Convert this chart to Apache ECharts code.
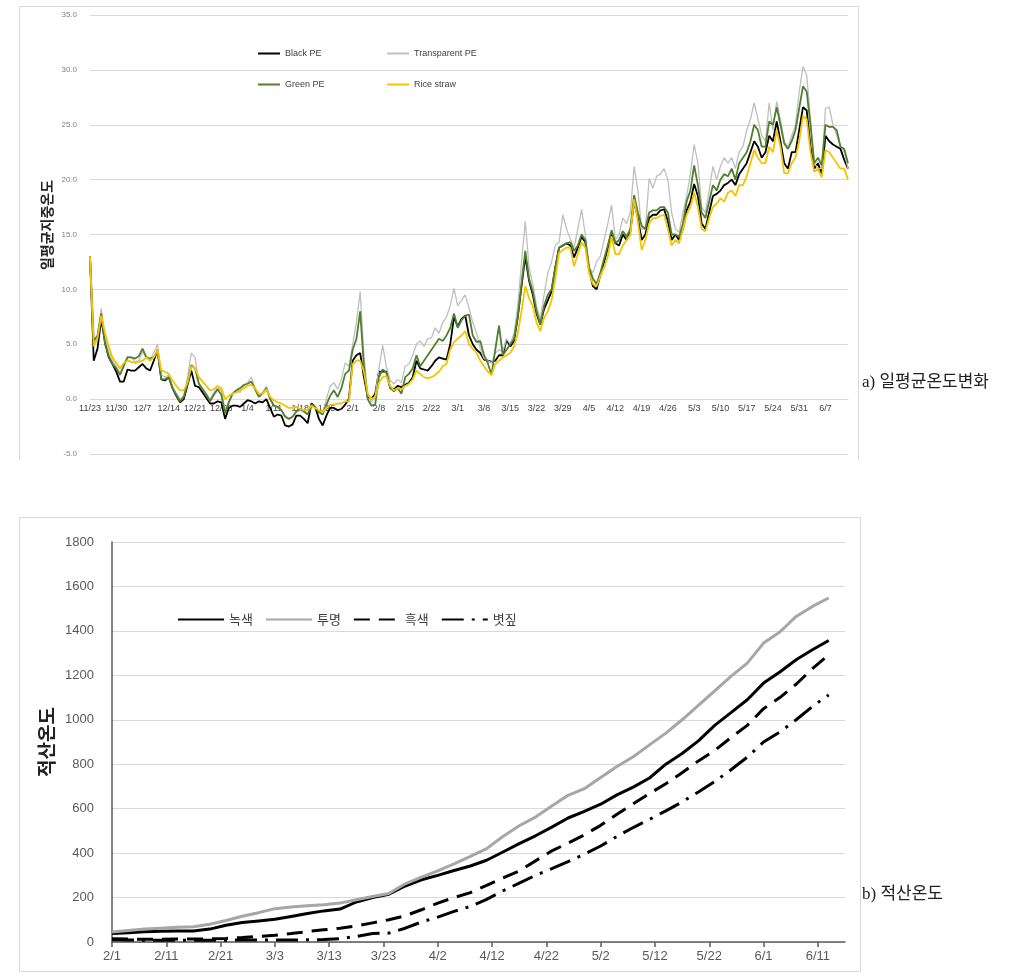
<!DOCTYPE html>
<html><head><meta charset="utf-8">
<script src="https://cdn.jsdelivr.net/npm/echarts@6/dist/echarts.min.js"></script>
<style>html,body{margin:0;padding:0;background:#fff;}#c{width:1035px;height:978px;}</style>
</head><body><div id="c"></div>
<script>
// ---------- top chart: daily mean soil temperature (11/23 .. 6/13) ----------
const blackPE = [13.0,3.5,4.6,7.3,5.2,3.8,3.2,2.5,1.6,1.6,2.7,2.6,2.6,2.9,3.2,2.8,2.6,3.5,4.5,1.8,
1.7,2.0,1.0,0.3,-0.3,0.0,1.3,2.6,1.2,1.1,0.6,0.1,-0.4,-0.4,-0.2,-0.3,-1.8,-0.8,-0.6,-0.6,
-0.7,-0.4,-0.1,-0.2,-0.4,-0.2,-0.3,0.0,-0.8,-1.6,-1.4,-1.5,-2.4,-2.5,-2.3,-1.5,-1.5,-1.8,-2.2,-0.4,
-0.7,-1.8,-2.4,-1.5,-0.8,-0.8,-1.0,-0.9,-0.5,0.0,3.5,4.0,4.2,2.0,0.2,0.0,0.5,2.5,2.5,2.5,
1.0,0.9,1.2,1.1,1.3,1.5,2.0,3.5,2.8,2.7,2.6,3.0,3.5,3.8,3.7,3.6,5.0,7.5,6.6,7.3,
7.6,5.8,5.0,4.5,4.2,3.6,3.5,3.4,3.5,4.0,4.0,5.4,4.8,5.3,7.5,10.3,13.0,10.8,9.5,7.8,
6.8,8.2,9.0,9.8,12.0,13.8,14.0,14.2,14.0,12.9,13.8,14.8,14.3,11.8,10.3,10.0,11.3,12.5,13.8,15.2,
14.2,14.0,15.0,14.5,15.3,18.0,16.5,14.5,15.0,16.5,16.8,16.8,17.2,17.3,16.2,14.5,15.0,14.5,15.5,17.2,
18.0,19.6,18.5,16.0,15.5,17.0,18.5,18.7,19.0,19.5,19.7,20.0,19.5,20.5,21.0,21.5,22.5,23.5,23.0,22.0,
22.5,24.0,23.5,25.3,23.5,21.5,21.0,22.5,22.5,24.5,26.6,26.3,23.0,21.0,21.5,20.5,24.0,23.5,23.2,23.0,
22.8,21.8,21.0];
const transparentPE = [13.0,5.2,5.8,8.3,5.6,4.3,3.5,3.0,2.4,3.2,3.9,3.8,3.4,3.5,4.3,3.9,3.6,4.2,5.0,2.2,
2.0,2.2,1.2,0.5,0.0,0.3,2.0,4.2,3.8,1.5,1.0,0.5,0.0,0.6,1.0,0.8,-1.0,-0.2,0.5,0.8,
0.6,1.2,1.5,2.0,1.0,0.4,0.6,1.2,0.2,-0.5,-0.8,-1.0,-1.5,-1.8,-1.6,-1.2,-1.0,-1.2,-1.4,-0.6,
-0.7,-1.1,-1.4,0.0,1.2,1.5,0.9,1.8,3.3,3.0,5.0,7.0,9.8,4.0,0.5,-0.3,0.3,2.8,4.9,2.9,
1.7,1.4,1.8,1.5,3.0,3.2,4.0,5.0,5.3,4.8,5.5,5.6,6.5,6.0,7.0,7.5,8.5,10.1,8.5,9.0,
9.5,8.3,7.0,6.0,4.6,3.7,3.5,3.3,4.2,4.5,4.3,5.5,5.0,6.0,8.5,12.5,16.2,12.0,10.5,8.5,
7.3,9.5,11.5,12.5,14.0,14.3,16.8,15.5,14.6,13.8,15.5,17.3,15.0,12.0,11.5,12.5,13.0,14.5,16.0,17.7,
14.5,15.0,16.5,16.0,17.0,21.2,19.0,15.5,15.5,20.1,19.2,20.3,20.5,21.0,20.0,17.0,15.5,15.2,17.0,18.5,
20.5,23.2,21.5,17.5,17.0,19.0,21.2,20.0,21.2,22.0,21.5,22.0,21.0,22.5,23.0,24.5,25.5,27.0,25.5,24.0,
23.5,27.0,24.5,27.1,25.5,23.5,23.0,24.0,25.0,28.0,30.3,29.5,25.5,21.5,21.0,21.0,26.5,26.6,25.0,24.0,
23.0,22.5,21.0];
const greenPE = [13.0,5.3,5.8,7.8,5.0,3.9,3.2,2.8,2.2,3.0,3.8,3.8,3.7,3.9,4.6,3.8,3.7,3.8,4.4,1.8,
1.8,2.0,1.0,0.4,-0.2,0.2,1.5,3.1,2.8,1.4,0.9,0.4,-0.2,0.4,0.9,0.4,-1.3,-0.3,0.5,0.8,
1.0,1.3,1.4,1.6,0.9,0.2,0.5,1.0,0.0,-0.6,-0.7,-1.0,-1.6,-1.8,-1.6,-1.1,-0.9,-1.1,-1.4,-0.5,
-0.7,-1.2,-1.4,-0.5,0.3,0.8,0.2,1.0,2.3,2.6,4.5,5.5,8.0,3.0,0.0,-0.6,-0.5,2.0,2.7,2.4,
1.0,0.7,1.0,0.5,2.0,2.3,2.8,4.0,3.0,3.5,4.0,4.5,5.0,5.5,5.3,5.8,6.5,7.8,6.5,7.2,
7.6,7.7,5.8,5.2,5.3,4.0,3.3,2.2,4.5,6.7,4.0,4.5,5.0,5.5,7.5,10.5,13.5,11.0,9.8,8.0,
6.8,8.5,9.5,10.0,12.0,13.8,14.0,14.2,14.3,13.5,14.0,15.0,14.5,12.0,11.0,10.5,11.5,12.8,14.0,15.4,
14.2,14.5,15.3,14.8,15.5,18.6,17.0,15.8,15.5,17.0,17.2,17.2,17.5,17.5,17.0,15.0,15.0,14.8,16.0,18.0,
19.0,21.3,19.5,17.0,16.5,18.0,19.5,19.0,20.0,20.5,20.3,21.0,20.0,21.5,22.0,22.5,23.5,25.0,24.5,23.0,
23.0,25.3,25.0,26.6,25.0,23.3,22.8,23.5,24.5,26.5,28.5,28.0,25.0,21.5,22.0,21.3,25.0,24.8,24.8,24.5,
23.0,22.8,21.5];
const riceStraw = [13.0,4.8,5.5,7.6,6.0,4.8,3.8,3.3,2.8,3.3,3.5,3.4,3.3,3.4,3.5,3.8,3.5,3.8,4.5,2.6,
2.5,2.3,1.7,1.2,0.8,0.8,1.5,3.0,2.8,2.0,1.6,1.2,0.8,0.9,1.2,1.0,0.0,0.3,0.5,0.6,
0.8,1.0,1.2,1.3,1.0,0.5,0.5,0.9,0.2,-0.1,-0.3,-0.4,-0.6,-0.8,-0.8,-0.7,-0.9,-1.0,-1.0,-0.6,
-0.8,-1.0,-1.2,-0.8,-0.5,-0.5,-0.4,-0.4,-0.2,-0.2,3.2,3.5,3.5,2.5,0.5,0.0,0.2,1.5,2.0,2.1,
1.2,0.8,1.0,0.9,1.2,1.4,1.8,2.6,2.3,2.0,1.9,2.0,2.2,2.5,3.0,3.2,4.5,5.2,5.5,5.8,
6.2,5.0,4.6,4.2,3.5,3.0,2.5,2.2,3.2,3.5,3.8,4.0,4.2,4.8,6.0,8.0,10.3,9.2,8.5,7.0,
6.2,7.4,8.0,9.0,11.0,13.3,13.6,13.8,13.8,12.1,13.2,14.3,13.8,11.5,10.5,10.3,11.2,12.0,13.0,14.8,
13.2,13.2,14.0,14.5,15.0,18.2,16.2,13.6,14.5,16.0,16.5,16.5,16.7,16.8,15.5,14.0,14.5,14.2,15.5,16.8,
17.5,18.8,17.5,15.5,15.3,16.5,17.5,17.8,18.3,18.0,18.8,19.0,18.5,19.5,19.5,20.3,21.5,22.7,22.0,21.5,
21.5,23.0,22.5,24.5,23.0,20.6,20.6,21.5,22.0,23.5,25.8,25.5,22.5,20.7,21.0,20.2,22.7,22.5,22.0,21.5,
21.0,21.0,20.0];
const topNames = ['Black PE','Transparent PE','Green PE','Rice straw'];
const topColors = ['#000000','#bfbfbf','#4f7f2f','#f5c400'];

// ---------- bottom chart: accumulated temperature (2/1 .. 6/13), sampled every 3 days ----------
const bottomDays = [0,3,6,9,12,15,18,21,24,27,30,33,36,39,42,45,48,51,54,57,60,63,66,69,72,75,78,81,84,87,90,93,96,99,102,105,108,111,114,117,120,123,126,129,132];
const accGreen = [38,42,46,48,49,49,58,75,88,95,102,115,128,140,148,180,200,215,252,280,300,322,342,368,405,443,478,517,558,588,620,662,697,738,800,848,905,975,1032,1090,1165,1215,1270,1315,1357];
const accTrans = [45,52,58,62,66,69,80,97,116,132,150,158,163,168,175,190,205,218,262,292,320,352,385,420,475,523,562,612,660,690,740,790,834,887,940,1000,1065,1130,1195,1255,1345,1395,1465,1510,1548];
const accBlack = [15,14,12,12,13,13,14,16,20,25,30,38,47,55,62,72,86,100,118,145,175,200,222,255,288,320,365,410,445,482,525,575,622,668,712,762,815,862,920,975,1050,1100,1160,1230,1292];
const accStraw = [10,9,8,8,8,8,8,8,9,9,9,9,10,11,15,25,38,40,62,90,112,138,160,192,230,265,300,330,362,395,432,475,515,552,590,630,675,722,775,832,900,945,1000,1060,1112];
const bottomNames = ['녹색','투명','흑색','볏짚'];

// ---------- date labels ----------
const monthLen = {11:30,12:31,1:31,2:28,3:31,4:30,5:31,6:30};
function dateLabels(m, d, n) {
  const out = [];
  for (let i = 0; i < n; i++) {
    out.push(m + '/' + d);
    d++;
    if (d > monthLen[m]) { d = 1; m = m === 12 ? 1 : m + 1; }
  }
  return out;
}
const topDates = dateLabels(11, 23, blackPE.length);
const bottomDates = dateLabels(2, 1, 140);

const KR = "'Noto Sans CJK KR','Liberation Sans',sans-serif";
const LAT = "'Liberation Sans','Noto Sans CJK KR',sans-serif";

const topSeriesData = [blackPE, transparentPE, greenPE, riceStraw];
const topWidths = [1.8, 1.3, 1.8, 1.8];
const topSeries = topNames.map((name, i) => ({
  name, type: 'line', xAxisIndex: 0, yAxisIndex: 0,
  data: topSeriesData[i], symbol: 'none', showSymbol: false,
  lineStyle: { color: topColors[i], width: topWidths[i] },
  itemStyle: { color: topColors[i] }, animation: false, z: 3 + i
}));

const accData = [accGreen, accTrans, accBlack, accStraw];
const accStyles = [
  { color: '#000000', width: 3, type: 'solid' },
  { color: '#a6a6a6', width: 3, type: 'solid' },
  { color: '#000000', width: 3, type: [16, 9] },
  { color: '#000000', width: 3, type: [22, 8, 3, 8] }
];
const bottomSeries = bottomNames.map((name, i) => ({
  name, type: 'line', xAxisIndex: 1, yAxisIndex: 1,
  data: bottomDays.map((d, k) => [d, accData[i][k]]),
  symbol: 'none', showSymbol: false,
  lineStyle: accStyles[i], itemStyle: { color: accStyles[i].color }, animation: false
}));

function topLegend(name, left, top) {
  return { data: [name], left, top, orient: 'horizontal', itemWidth: 22, itemHeight: 8,
    itemStyle: { opacity: 0 },
    textStyle: { fontSize: 9, color: '#404040', fontFamily: LAT }, selectedMode: false };
}

const chart = echarts.init(document.getElementById('c'), null, { renderer: 'canvas' });
chart.setOption({
  backgroundColor: '#ffffff',
  animation: false,
  grid: [
    { left: 90, right: 187, top: 15, bottom: 524, containLabel: false },
    { left: 112, right: 190, top: 542, bottom: 36, containLabel: false }
  ],
  legend: [
    topLegend('Black PE', 252, 44),
    topLegend('Transparent PE', 381, 44),
    topLegend('Green PE', 252, 75),
    topLegend('Rice straw', 381, 75),
    { data: bottomNames, left: 172, top: 608, itemWidth: 46, itemHeight: 10, itemGap: 12,
      itemStyle: { opacity: 0 },
      textStyle: { fontSize: 13, color: '#404040', fontFamily: KR }, selectedMode: false }
  ],
  xAxis: [
    { type: 'category', gridIndex: 0, data: topDates, boundaryGap: false, offset: -55,
      axisLine: { onZero: false, lineStyle: { color: '#d9d9d9', width: 1 } },
      axisTick: { show: false },
      axisLabel: { interval: 6, fontSize: 9, color: '#404040', margin: 5, fontFamily: LAT },
      splitLine: { show: false } },
    { type: 'value', gridIndex: 1, min: 0, max: 135, interval: 10,
      axisLine: { onZero: false, lineStyle: { color: '#595959', width: 1.5 } },
      axisTick: { show: true, length: 5, lineStyle: { color: '#595959', width: 1.5 } },
      axisLabel: { fontSize: 13, color: '#595959', margin: 8, fontFamily: LAT, showMaxLabel: false,
        formatter: v => bottomDates[Math.round(v)] },
      splitLine: { show: false } }
  ],
  yAxis: [
    { type: 'value', gridIndex: 0, min: -5, max: 35, interval: 5,
      axisLine: { show: false }, axisTick: { show: false },
      axisLabel: { fontSize: 8, color: '#7f7f7f', margin: 13, fontFamily: LAT, formatter: v => v.toFixed(1) },
      splitLine: { lineStyle: { color: '#d9d9d9', width: 1 } } },
    { type: 'value', gridIndex: 1, min: 0, max: 1800, interval: 200,
      axisLine: { show: true, lineStyle: { color: '#595959', width: 1.5 } }, axisTick: { show: false },
      axisLabel: { fontSize: 13, color: '#595959', margin: 18, fontFamily: LAT, formatter: v => String(v) },
      splitLine: { lineStyle: { color: '#d9d9d9', width: 1 } } }
  ],
  graphic: [
    { type: 'polyline', shape: { points: [[19.5, 460], [19.5, 6.5], [858.5, 6.5], [858.5, 460]] }, style: { fill: 'none', stroke: '#d9d9d9', lineWidth: 1 }, silent: true },
    { type: 'rect', shape: { x: 19.5, y: 517.5, width: 841, height: 454 }, style: { fill: 'none', stroke: '#d9d9d9', lineWidth: 1 }, silent: true },
    { type: 'text', x: 47, y: 225, rotation: Math.PI / 2,
      style: { text: '일평균지중온도', fontSize: 14, fontWeight: 'bold', fill: '#222', fontFamily: KR, align: 'center', verticalAlign: 'middle' } },
    { type: 'text', x: 47, y: 742, rotation: Math.PI / 2,
      style: { text: '적산온도', fontSize: 19, fontWeight: 'bold', fill: '#222', fontFamily: KR, align: 'center', verticalAlign: 'middle' } },
    { type: 'text', x: 862, y: 383,
      style: { text: 'a) 일평균온도변화', fontSize: 17, fill: '#222', fontFamily: "'Liberation Serif','Noto Sans CJK KR',serif", align: 'left', verticalAlign: 'middle' } },
    { type: 'text', x: 862, y: 895,
      style: { text: 'b) 적산온도', fontSize: 17, fill: '#222', fontFamily: "'Liberation Serif','Noto Sans CJK KR',serif", align: 'left', verticalAlign: 'middle' } }
  ],
  series: topSeries.concat(bottomSeries)
});
</script>
</body></html>
